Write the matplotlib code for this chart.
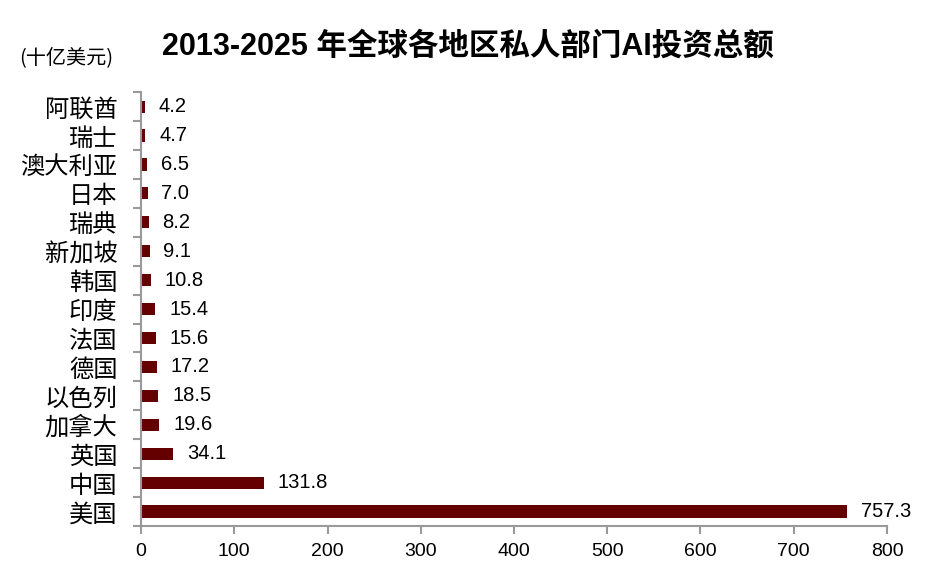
import numpy as np
import matplotlib.pyplot as plt
from matplotlib.ticker import FixedLocator

plt.rcParams['font.family'] = ['Liberation Sans', 'Noto Sans CJK SC', 'DejaVu Sans']

regions = ['阿联酋', '瑞士', '澳大利亚', '日本', '瑞典', '新加坡', '韩国', '印度',
           '法国', '德国', '以色列', '加拿大', '英国', '中国', '美国']
invest = [4.2, 4.7, 6.5, 7.0, 8.2, 9.1, 10.8, 15.4, 15.6, 17.2, 18.5, 19.6, 34.1, 131.8, 757.3]

fig = plt.figure(figsize=(9.42, 5.76), dpi=100)
ax = fig.add_axes([0.1497, 0.0868, 0.7919, 0.7532])

y = np.arange(len(regions))[::-1]
ax.barh(y, invest, height=0.42, color='#640000')
for yy, v in zip(y, invest):
    ax.annotate(f'{v:.1f}', (v, yy), xytext=(10, 0), textcoords='offset points',
                va='center', ha='left', fontsize=14.5)

ax.set_xlim(0, 800)
ax.set_ylim(-0.5, len(regions) - 0.5)
ax.set_xticks(np.arange(0, 801, 100))
ax.set_yticks(y)
ax.set_yticklabels(regions, fontsize=17.5, family=['Noto Sans CJK SC', 'DejaVu Sans'])
ax.yaxis.set_minor_locator(FixedLocator(np.arange(-0.5, len(regions), 1)))
ax.tick_params(axis='y', which='major', length=0, pad=17)
ax.tick_params(axis='y', which='minor', length=6, color='#999999', width=1.5)
ax.tick_params(axis='x', length=6, color='#999999', width=1.5, labelsize=14, pad=6)
for s in ['top', 'right']:
    ax.spines[s].set_visible(False)
for s in ['left', 'bottom']:
    ax.spines[s].set_color('#999999')
    ax.spines[s].set_linewidth(1.5)

fig.text(0.497, 0.92, '2013-2025 年全球各地区私人部门AI投资总额', ha='center', va='center',
         fontsize=22, fontweight='bold', family=['Liberation Sans', 'Noto Sans CJK SC'])
fig.text(0.02, 0.900, '(十亿美元)', ha='left', va='center', fontsize=14.5,
         family=['Noto Sans CJK SC', 'DejaVu Sans'])

fig.savefig('out.png', dpi=100)
